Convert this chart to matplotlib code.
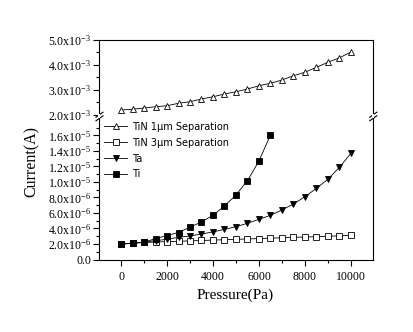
import matplotlib
matplotlib.use("Agg")
import matplotlib.pyplot as plt
from matplotlib.ticker import MultipleLocator, FixedLocator, FuncFormatter
from matplotlib.lines import Line2D

plt.rcParams['mathtext.default'] = 'regular'

# Pressure grids (Pa)
pressure_full = [0, 500, 1000, 1500, 2000, 2500, 3000, 3500, 4000, 4500, 5000,
                 5500, 6000, 6500, 7000, 7500, 8000, 8500, 9000, 9500, 10000]
pressure_ti = [0, 500, 1000, 1500, 2000, 2500, 3000, 3500, 4000, 4500, 5000,
               5500, 6000, 6500]

# Currents (A)
tin_1um = [2.18e-3, 2.21e-3, 2.26e-3, 2.31e-3, 2.35e-3, 2.45e-3, 2.51e-3,
           2.62e-3, 2.71e-3, 2.82e-3, 2.91e-3, 3.02e-3, 3.15e-3, 3.25e-3,
           3.38e-3, 3.55e-3, 3.69e-3, 3.89e-3, 4.09e-3, 4.27e-3, 4.50e-3]
tin_3um = [2.0e-6, 2.1e-6, 2.2e-6, 2.25e-6, 2.3e-6, 2.35e-6, 2.4e-6, 2.45e-6,
           2.5e-6, 2.55e-6, 2.6e-6, 2.65e-6, 2.7e-6, 2.75e-6, 2.8e-6, 2.85e-6,
           2.9e-6, 2.95e-6, 3.0e-6, 3.05e-6, 3.15e-6]
ta = [2.0e-6, 2.09e-6, 2.26e-6, 2.43e-6, 2.60e-6, 2.86e-6, 3.03e-6, 3.29e-6,
      3.55e-6, 3.89e-6, 4.23e-6, 4.67e-6, 5.18e-6, 5.70e-6, 6.39e-6, 7.16e-6,
      8.10e-6, 9.18e-6, 10.35e-6, 11.9e-6, 13.7e-6]
ti = [1.96e-6, 2.12e-6, 2.22e-6, 2.70e-6, 3.08e-6, 3.48e-6, 4.17e-6, 4.84e-6,
      5.70e-6, 6.90e-6, 8.32e-6, 10.17e-6, 12.71e-6, 16.06e-6]

labels = ["TiN 1\u00b5m Separation", "TiN 3\u00b5m Separation", "Ta", "Ti"]

# Tick values for the two panels of the broken axis
top_ticks = [2.0e-3, 3.0e-3, 4.0e-3, 5.0e-3]
bot_ticks = [0.0, 2e-6, 4e-6, 6e-6, 8e-6, 1.0e-5, 1.2e-5, 1.4e-5, 1.6e-5]
x_ticks = [0, 2000, 4000, 6000, 8000, 10000]

W, H = 414, 332
fig = plt.figure(figsize=(W / 100, H / 100), dpi=100)
fig.patch.set_facecolor("white")

left = 99.5 / W
width = (373.3 - 99.5) / W
ax_top = fig.add_axes([left, (H - 114.5) / H, width, 75.0 / H])
ax_bot = fig.add_axes([left, (H - 259.5) / H, width, 143.5 / H])

xlim = (-935, 10970)
lw = 0.6
ms = 4.5
serif = "Liberation Serif"

ax_top.plot(pressure_full, tin_1um, color="black", lw=lw, marker="^",
            ms=ms, mfc="white", mec="black", mew=0.6)
ax_bot.plot(pressure_full, tin_3um, color="black", lw=lw, marker="s",
            ms=ms - 0.5, mfc="white", mec="black", mew=0.6)
ax_bot.plot(pressure_full, ta, color="black", lw=lw, marker="v",
            ms=ms, mfc="black", mec="black", mew=0.6)
ax_bot.plot(pressure_ti, ti, color="black", lw=lw, marker="s",
            ms=ms - 0.5, mfc="black", mec="black", mew=0.6)

for ax in (ax_top, ax_bot):
    ax.set_xlim(*xlim)
    for s in ax.spines.values():
        s.set_linewidth(0.8)

ax_top.set_ylim(2.0e-3, 5.0e-3)
ax_bot.set_ylim(0, 1.85e-5)

ax_top.spines["bottom"].set_visible(False)
ax_bot.spines["top"].set_visible(False)
ax_top.tick_params(axis="x", which="both", bottom=False, top=False,
                   labelbottom=False)


def sci_label(v, pos):
    if abs(v) < 1e-12:
        return "0.0"
    if v >= 1e-3 - 1e-12:
        exp = -3
    elif v >= 1e-5 - 1e-12:
        exp = -5
    else:
        exp = -6
    return "%.1fx10$^{%d}$" % (v / 10 ** exp, exp)


ax_top.yaxis.set_major_locator(FixedLocator(top_ticks))
ax_top.yaxis.set_minor_locator(FixedLocator([2.5e-3, 3.5e-3, 4.5e-3]))
ax_top.yaxis.set_major_formatter(FuncFormatter(sci_label))
ax_bot.yaxis.set_major_locator(FixedLocator(bot_ticks))
ax_bot.yaxis.set_minor_locator(
    FixedLocator([1e-6, 3e-6, 5e-6, 7e-6, 9e-6, 1.1e-5, 1.3e-5, 1.5e-5,
                  1.7e-5]))
ax_bot.yaxis.set_major_formatter(FuncFormatter(sci_label))
ax_bot.xaxis.set_major_locator(FixedLocator(x_ticks))
ax_bot.xaxis.set_minor_locator(MultipleLocator(1000))

for ax in (ax_top, ax_bot):
    ax.tick_params(axis="both", which="major", direction="out", length=4,
                   width=0.8, labelsize=8.5, pad=2, right=False, top=False)
    ax.tick_params(axis="both", which="minor", direction="out", length=2,
                   width=0.8, right=False, top=False)
    for t in ax.get_xticklabels() + ax.get_yticklabels():
        t.set_fontfamily(serif)

ax_bot.tick_params(axis="x", which="major", pad=4)

# Axis break marks on both sides of the frame
for xf in (left, left + width):
    for dy in (-1.8, 1.8):
        y0 = (H - 116.5 + dy) / H
        fig.add_artist(Line2D([xf - 3.5 / W, xf + 3.5 / W],
                              [y0 - 2.5 / H, y0 + 2.5 / H],
                              color="black", lw=0.8))
    fig.add_artist(Line2D([xf, xf], [(H - 117.0) / H, (H - 114.8) / H],
                          color="white", lw=1.5))

fig.text(32 / W, 1 - 161.5 / H, "Current(A)", rotation=90, ha="center",
         va="center", fontsize=11.5, family=serif)
fig.text(235 / W, 1 - 295 / H, "Pressure(Pa)", ha="center", va="center",
         fontsize=11, family=serif)

handles = [
    Line2D([], [], color="black", lw=lw, marker="^", ms=ms, mfc="white",
           mec="black", mew=0.6),
    Line2D([], [], color="black", lw=lw, marker="s", ms=ms - 0.5,
           mfc="white", mec="black", mew=0.6),
    Line2D([], [], color="black", lw=lw, marker="v", ms=ms, mfc="black",
           mec="black", mew=0.6),
    Line2D([], [], color="black", lw=lw, marker="s", ms=ms - 0.5,
           mfc="black", mec="black", mew=0.6),
]
leg = ax_bot.legend(handles, labels, loc="upper left",
                    bbox_to_anchor=(-0.005, 1.0), frameon=False,
                    prop={"family": "DejaVu Sans", "size": 7.0},
                    handlelength=2.4, handletextpad=0.45, labelspacing=0.6,
                    borderaxespad=0.2)

fig.savefig("out.png", dpi=100, facecolor="white")
